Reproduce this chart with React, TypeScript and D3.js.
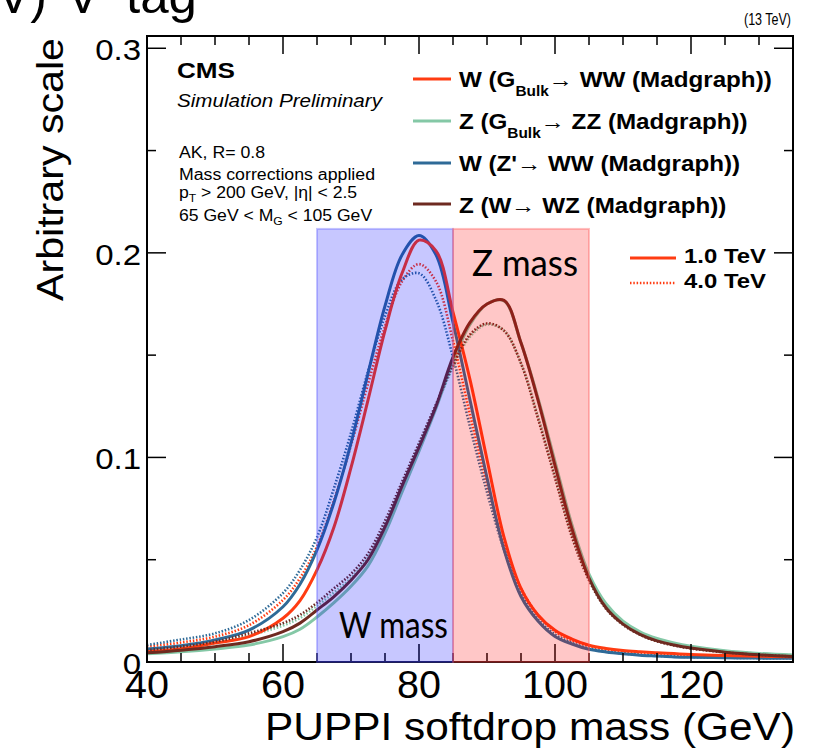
import React from 'react';
import * as d3 from 'd3';

const masses = [40, 45, 50, 55, 60, 62.5, 65, 67.5, 70, 72.5, 75, 77.5, 80, 82.5, 85, 87.5, 90, 92.5, 95, 97.5, 100, 102.5, 105, 107.5, 110, 112.5, 115, 117.5, 120, 125, 130, 135];

// W (G_Bulk -> WW), 1.0 TeV and 4.0 TeV
const wBulk1 = [0.005, 0.0065, 0.0093, 0.0124, 0.0214, 0.030, 0.045, 0.066, 0.095, 0.128, 0.162, 0.190, 0.2062, 0.201, 0.171, 0.138, 0.099, 0.061, 0.036, 0.023, 0.0155, 0.0112, 0.0082, 0.0066, 0.0056, 0.0050, 0.0045, 0.0041, 0.0037, 0.0032, 0.0028, 0.0026];
const wBulk4 = [0.0075, 0.0095, 0.0124, 0.018, 0.0303, 0.041, 0.0564, 0.079, 0.106, 0.136, 0.164, 0.186, 0.1945, 0.186, 0.157, 0.121, 0.087, 0.057, 0.036, 0.023, 0.015, 0.0105, 0.0078, 0.0061, 0.0050, 0.0043, 0.0038, 0.0035, 0.0032, 0.0028, 0.0025, 0.0024];
// Z (G_Bulk -> ZZ)
const zBulk1 = [0.004, 0.005, 0.0064, 0.0083, 0.0124, 0.016, 0.022, 0.029, 0.037, 0.047, 0.063, 0.083, 0.103, 0.124, 0.147, 0.165, 0.175, 0.1765, 0.156, 0.129, 0.098, 0.067, 0.043, 0.0285, 0.020, 0.0148, 0.0115, 0.0093, 0.0077, 0.0055, 0.0042, 0.0034];
const zBulk4 = [0.0052, 0.0068, 0.0092, 0.013, 0.0178, 0.0215, 0.0275, 0.034, 0.041, 0.051, 0.067, 0.086, 0.106, 0.125, 0.144, 0.159, 0.165, 0.162, 0.146, 0.120, 0.091, 0.062, 0.041, 0.0275, 0.0195, 0.0145, 0.0112, 0.0090, 0.0074, 0.0053, 0.0041, 0.0033];
// W (Z' -> WW)
const wZp1 = [0.0064, 0.008, 0.0108, 0.0156, 0.027, 0.038, 0.0548, 0.078, 0.107, 0.141, 0.174, 0.199, 0.2085, 0.199, 0.166, 0.128, 0.090, 0.055, 0.032, 0.020, 0.0125, 0.0088, 0.0062, 0.0049, 0.0040, 0.0033, 0.0029, 0.0025, 0.0023, 0.0021, 0.0019, 0.0018];
const wZp4 = [0.0083, 0.011, 0.014, 0.0205, 0.0337, 0.045, 0.061, 0.085, 0.112, 0.142, 0.169, 0.187, 0.190, 0.177, 0.149, 0.115, 0.083, 0.055, 0.034, 0.021, 0.0135, 0.0093, 0.0066, 0.0051, 0.0042, 0.0035, 0.0030, 0.0027, 0.0024, 0.0021, 0.0019, 0.0018];
// Z (W' -> WZ)
const zWp1 = [0.0045, 0.0058, 0.0075, 0.0099, 0.0148, 0.019, 0.0254, 0.032, 0.040, 0.050, 0.066, 0.086, 0.105, 0.125, 0.149, 0.166, 0.175, 0.1768, 0.156, 0.128, 0.096, 0.065, 0.041, 0.0265, 0.0185, 0.0135, 0.0103, 0.0083, 0.0068, 0.0048, 0.0035, 0.0027];
const zWp4 = [0.0058, 0.0075, 0.0099, 0.014, 0.019, 0.023, 0.029, 0.036, 0.043, 0.053, 0.069, 0.088, 0.107, 0.126, 0.145, 0.160, 0.1655, 0.162, 0.146, 0.119, 0.090, 0.061, 0.040, 0.026, 0.0182, 0.0133, 0.0101, 0.0081, 0.0066, 0.0047, 0.0035, 0.0027];

const xTicks = [40, 60, 80, 100, 120];
const yTicks = [0, 0.1, 0.2, 0.3];
const yTickLabels = ['0', '0.1', '0.2', '0.3'];
const wWindow = [65, 85];
const zWindow = [85, 105];
const windowTop = 0.2117;

const C_RED = '#ff3c12';
const C_GREEN = '#84c8a6';
const C_BLUE = '#2e6a97';
const C_BROWN = '#6e2a20';

const series = [
  { v: zBulk4, c: C_GREEN, dot: true },
  { v: zBulk1, c: C_GREEN, dot: false },
  { v: wBulk4, c: C_RED, dot: true },
  { v: wZp4, c: C_BLUE, dot: true },
  { v: wZp1, c: C_BLUE, dot: false },
  { v: wBulk1, c: C_RED, dot: false },
  { v: zWp4, c: C_BROWN, dot: true },
  { v: zWp1, c: C_BROWN, dot: false },
];

const FONT = "'Liberation Sans', Arial, Helvetica, sans-serif";
const FONT2 = "Lato, 'Open Sans', sans-serif";

export default function App() {
  const L = 147, R = 793, T = 36, B = 662;
  const x = d3.scaleLinear().domain([40, 135]).range([L, R]);
  const y = d3.scaleLinear().domain([0, 0.306]).range([B, T]);
  const line = d3.line<number>().x((_, i) => x(masses[i])).y((d) => y(d)).curve(d3.curveCatmullRom.alpha(0.5));

  const minorX = d3.range(40, 136, 5);
  const minorY = d3.range(0, 0.301, 0.05);

  const legendRows = [
    { c: C_RED, y: 79 },
    { c: C_GREEN, y: 121 },
    { c: C_BLUE, y: 163 },
    { c: C_BROWN, y: 204 },
  ];
  const sx = 1.1;

  return (
    <svg width={817} height={753} style={{ position: 'absolute', left: 0, top: 0, background: '#fff' }} fontFamily={FONT}>
      <rect x={0} y={0} width={817} height={753} fill="#fff" />
      {/* slide title, clipped at the top edge */}
      <g fontSize={50}>
        <text x={47} y={13} textAnchor="end">(TeV)</text>
        <text x={83} y={13} textAnchor="middle">V</text>
        <text x={126} y={13} textLength={71} lengthAdjust="spacingAndGlyphs">tag</text>
      </g>
      <text x={791} y={25} textAnchor="end" fontSize={17} textLength={47} lengthAdjust="spacingAndGlyphs">(13 TeV)</text>

      {/* curves */}
      <g fill="none">
        {series.map((s, i) => (
          <path key={i} d={line(s.v) || ''} stroke={s.c} strokeWidth={s.dot ? 2.6 : 3} strokeDasharray={s.dot ? '1.5,1.8' : undefined} />
        ))}
      </g>

      {/* frame and ticks */}
      <rect x={L} y={T} width={R - L} height={B - T} fill="none" stroke="#000" strokeWidth={2} />
      <g stroke="#000" strokeWidth={1.5}>
        {minorX.map((m) => {
          const big = m % 20 === 0;
          const len = big ? 18 : 9;
          if (m === 40) return null;
          return (
            <g key={m}>
              <line x1={x(m)} x2={x(m)} y1={B} y2={B - len} />
              <line x1={x(m)} x2={x(m)} y1={T} y2={T + len} />
            </g>
          );
        })}
        {minorY.map((v) => {
          const big = Math.abs(v * 10 - Math.round(v * 10)) < 1e-6;
          const len = big ? 19 : 9;
          if (v === 0) return null;
          return (
            <g key={v}>
              <line x1={L} x2={L + len} y1={y(v)} y2={y(v)} />
              <line x1={R} x2={R - len} y1={y(v)} y2={y(v)} />
            </g>
          );
        })}
      </g>

      {/* mass windows */}
      <rect x={x(wWindow[0])} y={y(windowTop)} width={x(wWindow[1]) - x(wWindow[0])} height={y(0) - y(windowTop)} fill="rgb(0,0,255)" fillOpacity={0.22} stroke="rgb(90,90,255)" strokeOpacity={0.35} strokeWidth={2} />
      <rect x={x(zWindow[0])} y={y(windowTop)} width={x(zWindow[1]) - x(zWindow[0])} height={y(0) - y(windowTop)} fill="rgb(255,0,0)" fillOpacity={0.22} stroke="rgb(255,80,80)" strokeOpacity={0.35} strokeWidth={2} />
      <text x={339} y={638} fontFamily={FONT2} fontSize={37} textLength={109} lengthAdjust="spacingAndGlyphs">W mass</text>
      <text x={472} y={276} fontFamily={FONT2} fontSize={37} textLength={106} lengthAdjust="spacingAndGlyphs">Z mass</text>

      {/* tick labels */}
      {yTicks.map((v, i) => (
        <text key={v} x={141} y={y(v) + 12} textAnchor="end" fontSize={30} transform={`translate(141,0) scale(${sx},1) translate(-141,0)`}>{yTickLabels[i]}</text>
      ))}
      {xTicks.map((m) => (
        <text key={m} x={x(m)} y={698} textAnchor="middle" fontSize={38} transform={`translate(${x(m)},0) scale(1.04,1) translate(${-x(m)},0)`}>{m}</text>
      ))}
      <text x={795} y={740} textAnchor="end" fontSize={38} textLength={530} lengthAdjust="spacingAndGlyphs">PUPPI softdrop mass (GeV)</text>
      <text transform="translate(63,301) rotate(-90)" x={0} y={0} fontSize={37} textLength={263} lengthAdjust="spacingAndGlyphs">Arbitrary scale</text>

      {/* CMS labels */}
      <text x={177} y={78} fontSize={22} fontWeight="bold" textLength={58} lengthAdjust="spacingAndGlyphs">CMS</text>
      <text x={177} y={107} fontSize={19} fontStyle="italic" textLength={205} lengthAdjust="spacingAndGlyphs">Simulation Preliminary</text>
      <g fontSize={16}>
        <text x={179} y={158} textLength={86} lengthAdjust="spacingAndGlyphs">AK, R= 0.8</text>
        <text x={179} y={180} textLength={196} lengthAdjust="spacingAndGlyphs">Mass corrections applied</text>
        <g transform={`translate(179,198) scale(${sx},1)`}>
          <text x={0} y={0}>p<tspan fontSize={11} dy={4}>T</tspan><tspan dy={-4}> &gt; 200 GeV, |η| &lt; 2.5</tspan></text>
        </g>
        <g transform={`translate(179,221) scale(${sx},1)`}>
          <text x={0} y={0}>65 GeV &lt; M<tspan fontSize={11} dy={4}>G</tspan><tspan dy={-4}> &lt; 105 GeV</tspan></text>
        </g>
      </g>

      {/* legend */}
      {legendRows.map((r, i) => (
        <line key={i} x1={413} x2={451} y1={r.y} y2={r.y} stroke={r.c} strokeWidth={3.2} />
      ))}
      <g fontSize={22} fontWeight="bold">
        <g transform={`translate(459,87) scale(${sx},1)`}>
          <text x={0} y={0}>W (G<tspan fontSize={14} dy={9}>Bulk</tspan><tspan dy={-9} fontWeight="normal">→</tspan><tspan> WW (Madgraph))</tspan></text>
        </g>
        <g transform={`translate(459,129) scale(${sx},1)`}>
          <text x={0} y={0}>Z (G<tspan fontSize={14} dy={9}>Bulk</tspan><tspan dy={-9} fontWeight="normal">→</tspan><tspan> ZZ (Madgraph))</tspan></text>
        </g>
        <g transform={`translate(459,171) scale(${sx},1)`}>
          <text x={0} y={0}>W (Z'<tspan fontWeight="normal">→</tspan><tspan> WW (Madgraph))</tspan></text>
        </g>
        <g transform={`translate(459,213) scale(${sx},1)`}>
          <text x={0} y={0}>Z (W<tspan fontWeight="normal">→</tspan><tspan> WZ (Madgraph))</tspan></text>
        </g>
      </g>
      <line x1={630} x2={676} y1={258} y2={258} stroke={C_RED} strokeWidth={3.2} />
      <line x1={630} x2={676} y1={283} y2={283} stroke={C_RED} strokeWidth={2.6} strokeDasharray="1.5,1.8" />
      <g fontSize={21} fontWeight="bold">
        <text x={684} y={263} textLength={82} lengthAdjust="spacingAndGlyphs">1.0 TeV</text>
        <text x={684} y={288} textLength={82} lengthAdjust="spacingAndGlyphs">4.0 TeV</text>
      </g>
    </svg>
  );
}
